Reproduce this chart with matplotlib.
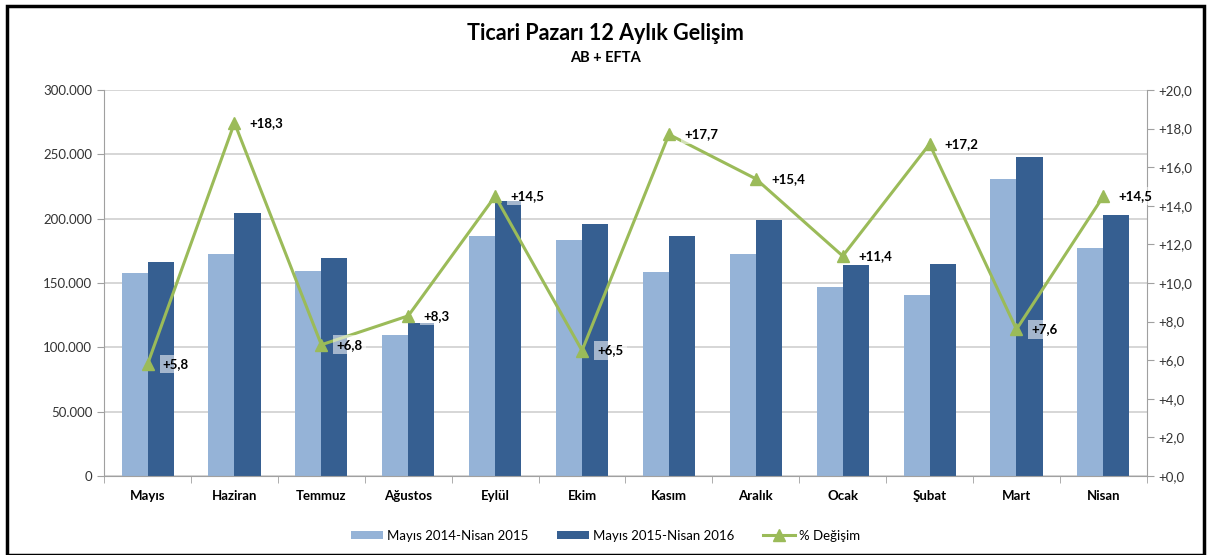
import matplotlib.pyplot as plt
import matplotlib.ticker as mticker
from matplotlib.patches import Rectangle
import numpy as np

plt.rcParams['font.family'] = ['Lato', 'DejaVu Sans']

aylar = ['Mayıs', 'Haziran', 'Temmuz', 'Ağustos', 'Eylül', 'Ekim',
         'Kasım', 'Aralık', 'Ocak', 'Şubat', 'Mart', 'Nisan']
onceki = [157800, 172500, 159300, 109600, 186500, 183400,
          158500, 172500, 146900, 140700, 230800, 177200]
sonraki = [166300, 204400, 169400, 118700, 213600, 195600,
           186200, 199100, 163700, 165000, 248300, 202900]
degisim = [5.8, 18.3, 6.8, 8.3, 14.5, 6.5, 17.7, 15.4, 11.4, 17.2, 7.6, 14.5]

acik = '#95B3D7'
koyu = '#365F91'
yesil = '#9BBB59'

fig = plt.figure(figsize=(12.11, 5.55), dpi=100)
fig.patches.append(Rectangle((0.006, 0.0), 0.988, 0.99, transform=fig.transFigure,
                             fill=False, edgecolor='black', linewidth=2.5))
ax = fig.add_axes([0.086, 0.1423, 0.861, 0.6955])
ax2 = ax.twinx()

x = np.arange(len(aylar))
w = 0.3
ax.bar(x - w / 2, onceki, w, color=acik, label='Mayıs 2014-Nisan 2015', zorder=2)
ax.bar(x + w / 2, sonraki, w, color=koyu, label='Mayıs 2015-Nisan 2016', zorder=2)

ax.set_xlim(-0.5, len(aylar) - 0.5)
ax.set_ylim(0, 300000)
ax.set_yticks(np.arange(0, 300001, 50000))
ax.yaxis.set_major_formatter(mticker.FuncFormatter(lambda v, p: f'{int(v):,}'.replace(',', '.')))
ax.grid(axis='y', color='#D0D0D0', linewidth=1.2, zorder=0)
ax.set_axisbelow(True)
ax.set_xticks(x)
ax.set_xticklabels(aylar, fontweight='bold', fontsize=9.5)
ax.set_xticks(np.arange(-0.5, len(aylar), 1), minor=True)
ax.tick_params(axis='x', which='major', length=0, pad=10)
ax.tick_params(axis='x', which='minor', length=5, color='#A0A0A0')
ax.tick_params(axis='y', length=5, color='#A0A0A0', labelsize=9.5, labelcolor='#333333')
for s in ['top', 'right']:
    ax.spines[s].set_visible(False)
ax.spines['left'].set_color('#A0A0A0')
ax.spines['bottom'].set_color('#A0A0A0')

ax2.plot(x, degisim, color=yesil, linewidth=2.2, marker='^', markersize=9,
         label='% Değişim', zorder=3)
ax2.set_ylim(0, 20)
ax2.set_yticks(np.arange(0, 20.1, 2))
ax2.yaxis.set_major_formatter(mticker.FuncFormatter(lambda v, p: f'+{v:.1f}'.replace('.', ',')))
ax2.tick_params(axis='y', length=5, color='#A0A0A0', labelsize=9.5, labelcolor='#333333')
for s in ['top', 'left', 'bottom']:
    ax2.spines[s].set_visible(False)
ax2.spines['right'].set_color('#A0A0A0')

for xi, d in zip(x, degisim):
    ax2.annotate(f'+{d:.1f}'.replace('.', ','), (xi, d), xytext=(11, 0),
                 textcoords='offset points', va='center', ha='left',
                 fontsize=9.5, fontweight='bold',
                 bbox=dict(boxstyle='square,pad=0.25', facecolor='white',
                           edgecolor='none', alpha=0.55), zorder=4)

fig.text(0.5, 0.94, 'Ticari Pazarı 12 Aylık Gelişim', ha='center', va='center',
         fontsize=15.5, fontweight='bold')
fig.text(0.5, 0.895, 'AB + EFTA', ha='center', va='center', fontsize=10.5,
         fontweight='bold')

h1, l1 = ax.get_legend_handles_labels()
h2, l2 = ax2.get_legend_handles_labels()
fig.legend(h1 + h2, l1 + l2, loc='center', bbox_to_anchor=(0.5, 0.035), ncol=3,
           frameon=False, fontsize=9.5, handlelength=2.4, handleheight=0.5,
           columnspacing=2.2, handletextpad=0.3)

fig.savefig('out.png', dpi=100)
